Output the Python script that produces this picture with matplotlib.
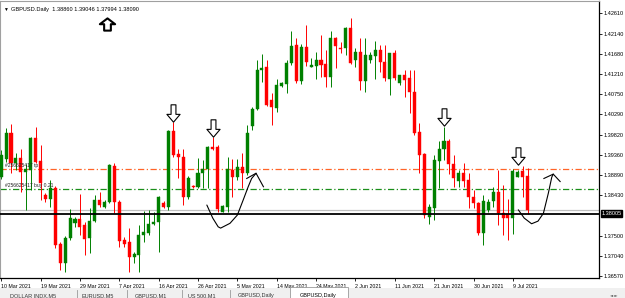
import numpy as np
import matplotlib
matplotlib.use('Agg')
import matplotlib.pyplot as plt
from matplotlib.path import Path
from matplotlib.patches import Rectangle

plt.rcParams['font.family'] = ['Liberation Sans', 'DejaVu Sans']

# ── Data: GBPUSD daily candles (Sunday bars included) ─────────────────────
opens = [1.3885, 1.3925, 1.3986, 1.3916, 1.3927, 1.3897, 1.3900, 1.3973, 1.3922, 1.3843,
         1.3833, 1.3858, 1.3730, 1.3686, 1.3744, 1.3778, 1.3787, 1.3774, 1.3744, 1.3784,
         1.3832, 1.3816, 1.3828, 1.3910, 1.3828, 1.3740, 1.3734, 1.3700, 1.3705, 1.3751,
         1.3756, 1.3776, 1.3782, 1.3824, 1.3816, 1.3991, 1.3937, 1.3931, 1.3838, 1.3864,
         1.3862, 1.3893, 1.3902, 1.3953, 1.3953, 1.3805, 1.3816, 1.3900, 1.3885, 1.3907,
         1.3893, 1.4002, 1.4040, 1.4130, 1.4136, 1.4061, 1.4044, 1.4094, 1.4098, 1.4146,
         1.4188, 1.4105, 1.4184, 1.4138, 1.4140, 1.4153, 1.4143, 1.4115, 1.4203, 1.4181,
         1.4180, 1.4226, 1.4153, 1.4171, 1.4105, 1.4153, 1.4162, 1.4176, 1.4149, 1.4109,
         1.4169, 1.4100, 1.4119, 1.4111, 1.4080, 1.3988, 1.3937, 1.3793, 1.3814, 1.3922,
         1.3948, 1.3966, 1.3914, 1.3876, 1.3894, 1.3878, 1.3839, 1.3825, 1.3755, 1.3809,
         1.3830, 1.3851, 1.3801, 1.3799, 1.3790, 1.3885, 1.3898, 1.3886]
highs = [1.3946, 1.3997, 1.4006, 1.3940, 1.3948, 1.3914, 1.3976, 1.3999, 1.3958, 1.3848,
         1.3878, 1.3864, 1.3735, 1.3749, 1.3810, 1.3793, 1.3845, 1.3782, 1.3813, 1.3843,
         1.3851, 1.3832, 1.3914, 1.3916, 1.3832, 1.3747, 1.3767, 1.3713, 1.3774, 1.3807,
         1.3809, 1.3805, 1.3841, 1.3829, 1.3992, 1.4011, 1.3948, 1.3948, 1.3887, 1.3866,
         1.3927, 1.3923, 1.3956, 1.3976, 1.3958, 1.3820, 1.3931, 1.3925, 1.3926, 1.3940,
         1.4004, 1.4046, 1.4153, 1.4166, 1.4153, 1.4078, 1.4110, 1.4103, 1.4153, 1.4220,
         1.4203, 1.4189, 1.4234, 1.4157, 1.4171, 1.4211, 1.4176, 1.4220, 1.4205, 1.4195,
         1.4230, 1.4249, 1.4181, 1.4203, 1.4203, 1.4172, 1.4197, 1.4188, 1.4188, 1.4169,
         1.4176, 1.4119, 1.4130, 1.4130, 1.4130, 1.4008, 1.3939, 1.3822, 1.3935, 1.3966,
         1.3999, 1.3972, 1.3935, 1.3900, 1.3916, 1.3893, 1.3855, 1.3828, 1.3843, 1.3833,
         1.3862, 1.3900, 1.3866, 1.3833, 1.3902, 1.3900, 1.3910, 1.3905]
lows = [1.3880, 1.3919, 1.3894, 1.3900, 1.3851, 1.3809, 1.3855, 1.3917, 1.3832, 1.3827,
        1.3816, 1.3721, 1.3671, 1.3667, 1.3740, 1.3770, 1.3751, 1.3705, 1.3709, 1.3781,
        1.3816, 1.3814, 1.3825, 1.3802, 1.3724, 1.3724, 1.3667, 1.3686, 1.3667, 1.3736,
        1.3751, 1.3774, 1.3713, 1.3813, 1.3809, 1.3930, 1.3881, 1.3820, 1.3835, 1.3859,
        1.3858, 1.3858, 1.3858, 1.3946, 1.3805, 1.3804, 1.3805, 1.3838, 1.3878, 1.3858,
        1.3889, 1.3992, 1.4038, 1.4102, 1.4048, 1.4004, 1.4034, 1.4092, 1.4077, 1.4142,
        1.4100, 1.4097, 1.4139, 1.4137, 1.4109, 1.4115, 1.4092, 1.4090, 1.4135, 1.4169,
        1.4165, 1.4143, 1.4138, 1.4084, 1.4080, 1.4146, 1.4109, 1.4126, 1.4105, 1.4073,
        1.4107, 1.4096, 1.4069, 1.4032, 1.3981, 1.3893, 1.3790, 1.3776, 1.3786, 1.3858,
        1.3924, 1.3891, 1.3862, 1.3862, 1.3862, 1.3813, 1.3813, 1.3751, 1.3728, 1.3805,
        1.3816, 1.3774, 1.3751, 1.3740, 1.3753, 1.3884, 1.3839, 1.3799]
closes = [1.3935, 1.3986, 1.3917, 1.3929, 1.3897, 1.3902, 1.3973, 1.3920, 1.3870, 1.3835,
          1.3858, 1.3728, 1.3686, 1.3744, 1.3790, 1.3787, 1.3770, 1.3742, 1.3784, 1.3832,
          1.3819, 1.3828, 1.3912, 1.3828, 1.3737, 1.3730, 1.3701, 1.3707, 1.3751, 1.3757,
          1.3776, 1.3782, 1.3839, 1.3816, 1.3991, 1.3935, 1.3930, 1.3838, 1.3883, 1.3861,
          1.3893, 1.3902, 1.3953, 1.3949, 1.3811, 1.3818, 1.3902, 1.3885, 1.3907, 1.3893,
          1.3986, 1.4040, 1.4130, 1.4135, 1.4050, 1.4046, 1.4096, 1.4101, 1.4147, 1.4186,
          1.4105, 1.4184, 1.4149, 1.4142, 1.4153, 1.4142, 1.4115, 1.4204, 1.4186, 1.4179,
          1.4227, 1.4146, 1.4171, 1.4105, 1.4165, 1.4165, 1.4176, 1.4148, 1.4111, 1.4169,
          1.4112, 1.4119, 1.4107, 1.4080, 1.3986, 1.3935, 1.3797, 1.3816, 1.3924, 1.3948,
          1.3966, 1.3914, 1.3881, 1.3894, 1.3876, 1.3838, 1.3824, 1.3755, 1.3830, 1.3828,
          1.3851, 1.3801, 1.3790, 1.3790, 1.3898, 1.3897, 1.3884, 1.3809]

date_labels = ["10 Mar 2021", "19 Mar 2021", "29 Mar 2021", "7 Apr 2021", "16 Apr 2021",
               "26 Apr 2021", "5 May 2021", "14 May 2021", "24 May 2021", "2 Jun 2021",
               "11 Jun 2021", "21 Jun 2021", "30 Jun 2021", "9 Jul 2021"]
date_label_bars = [0, 8, 16, 24, 32, 40, 48, 56, 64, 72, 80, 88, 96, 104]

price_levels = [1.42610, 1.42140, 1.41680, 1.41210, 1.40750, 1.40290, 1.39820,
                1.39360, 1.38890, 1.38430, 1.37500, 1.37040, 1.36570]

tp_level = 1.3902
buy_level = 1.3856
bid_level = 1.38090
support_level = 1.38005
header_ohlc = [1.38860, 1.39046, 1.37994, 1.38090]

signal_bars = [35, 43, 90, 105]          # hollow "down" arrows
signal_prices = [1.4031, 1.3998, 1.4022, 1.3933]

# hand drawn "bounce" curves (bar index, price)
curve1_x = [41.8, 43.0, 44.1, 44.6, 46.5, 48.0, 49.2, 50.2, 50.9, 51.8]
curve1_y = [1.3820, 1.3790, 1.3770, 1.3767, 1.3778, 1.3797, 1.3832, 1.3862, 1.3881, 1.3893]
head1_x = [49.9, 51.8, 53.3]
head1_y = [1.3881, 1.3893, 1.3862]
curve2_x = [105.1, 106.3, 107.8, 109.1, 110.2, 111.2, 111.9, 112.2]
curve2_y = [1.3809, 1.3790, 1.3777, 1.3783, 1.3801, 1.3847, 1.3884, 1.3891]
head2_x = [110.3, 112.2, 113.6]
head2_y = [1.3881, 1.3891, 1.3874]

# ── Figure ────────────────────────────────────────────────────────────────
W, H = 625, 298
fig = plt.figure(figsize=(W / 100, H / 100), dpi=100)
fig.patch.set_facecolor("white")
ax = fig.add_axes([0, 20 / H, 599 / W, 277 / H])

o = np.array(opens); h = np.array(highs); l = np.array(lows); c = np.array(closes)
x = np.arange(len(o))
up = c >= o
col = np.where(up, "#008000", "#ff0000")

ax.vlines(x, l, h, colors=col, linewidth=0.7, zorder=2)
body_bot = np.minimum(o, c)
body_h = np.maximum(np.abs(c - o), 0.00008)
ax.bar(x, body_h, bottom=body_bot, width=0.62, color=col, edgecolor=col,
       linewidth=0.3, zorder=3)

# order / level lines
ax.axhline(tp_level, color="#ff6428", lw=0.9, dashes=(5, 2, 1, 2), zorder=1)
ax.axhline(buy_level, color="#1a8f1a", lw=0.9, dashes=(5, 2, 1, 2), zorder=1)
ax.axhline(bid_level, color="#c0c0c0", lw=0.9, zorder=1)
ax.axhline(support_level, color="black", lw=1.3, zorder=4)
ax.text(0.7, tp_level + 0.0004, "#256625417 tp", fontsize=3.6, color="#222222",
        va="bottom", zorder=5)
ax.text(0.7, buy_level + 0.0004, "#256625417 buy 0.21", fontsize=3.6, color="#222222",
        va="bottom", zorder=5)

# arrows
down_arrow = Path([(-0.14, 0.5), (0.14, 0.5), (0.14, -0.05), (0.38, -0.05),
                   (0, -0.5), (-0.38, -0.05), (-0.14, -0.05), (-0.14, 0.5)],
                  [Path.MOVETO] + [Path.LINETO] * 6 + [Path.CLOSEPOLY])
up_arrow = Path([(-0.22, -0.4), (0.22, -0.4), (0.22, 0.02), (0.5, 0.02),
                 (0, 0.4), (-0.5, 0.02), (-0.22, 0.02), (-0.22, -0.4)],
                [Path.MOVETO] + [Path.LINETO] * 6 + [Path.CLOSEPOLY])
ax.plot(signal_bars, signal_prices, ls="none", marker=down_arrow, ms=12.5,
        mfc="white", mec="black", mew=0.8, zorder=6)
ax.plot([21.6], [1.4236], ls="none", marker=up_arrow, ms=11, mfc="white",
        mec="black", mew=1.5, zorder=6)

# hand drawn curves
for cx, cy, hx, hy in [(curve1_x, curve1_y, head1_x, head1_y),
                       (curve2_x, curve2_y, head2_x, head2_y)]:
    ax.plot(cx, cy, color="black", lw=0.8, zorder=6, solid_capstyle="round")
    ax.plot(hx, hy, color="black", lw=0.8, zorder=6, solid_joinstyle="round")

# axes styling
ax.set_xlim(-0.24, 121.5)
ax.set_ylim(1.36524, 1.42887)
ax.set_facecolor("white")
for s in ["right", "bottom"]:
    ax.spines[s].set_color("black")
    ax.spines[s].set_linewidth(0.9)
ax.spines["left"].set_color("#a0a0a0")
ax.spines["top"].set_color("#a0a0a0")

ax.yaxis.tick_right()
ax.set_yticks(price_levels)
ax.set_yticklabels([f"{v:.5f}" for v in price_levels])
ax.tick_params(axis="y", length=2, width=0.6, pad=1.5, labelsize=4.0)
ax.set_xticks(date_label_bars)
ax.set_xticklabels(date_labels)
ax.tick_params(axis="x", length=2.5, width=0.6, pad=1.5, labelsize=3.8)
for lab in ax.get_xticklabels():
    lab.set_ha("left")

# current price box on the scale
ax.text(1.004, support_level, f"{support_level:.5f}", transform=ax.get_yaxis_transform(),
        fontsize=4.0, color="white", va="center", ha="left", clip_on=False, zorder=7,
        bbox=dict(boxstyle="square,pad=0.15", fc="black", ec="black"))

# header
fig.text(3 / W, 1 - 9 / H, "\u25bc", fontsize=3.5, va="center", ha="left")
fig.text(11 / W, 1 - 9 / H,
         "GBPUSD.Daily  " + " ".join(f"{v:.5f}" for v in header_ohlc),
         fontsize=4.1, va="center", ha="left")

# tab bar
fig.patches.append(Rectangle((0, 0), 1, 10 / H, transform=fig.transFigure,
                             fc="#f0f0f0", ec="none", zorder=0))
tabs = ["DOLLAR INDX,M5", "EURUSD,M5", "GBPUSD,M1", "US 500,M1", "GBPUSD,Daily"]
tab_x = [10, 82, 135, 188, 238]
for t, tx in zip(tabs, tab_x):
    fig.text(tx / W, 2 / H, t, fontsize=4.0, va="center", ha="left", color="#333333")
for sx in [77, 127, 182, 230]:
    fig.lines.append(plt.Line2D([sx / W, sx / W], [0, 8 / H], transform=fig.transFigure,
                                color="#9a9a9a", lw=0.6))
fig.patches.append(Rectangle((290 / W, 0), 58 / W, 11 / H, transform=fig.transFigure,
                             fc="white", ec="#9a9a9a", lw=0.6, zorder=1))
fig.text(300 / W, 2 / H, "GBPUSD,Daily", fontsize=4.0, va="center", ha="left",
         color="black", zorder=2)
fig.text(610 / W, 2 / H, "\u25c4 \u25ba", fontsize=3, va="center", ha="left",
         color="#555555", family="DejaVu Sans")

fig.savefig("out.png", dpi=100)
